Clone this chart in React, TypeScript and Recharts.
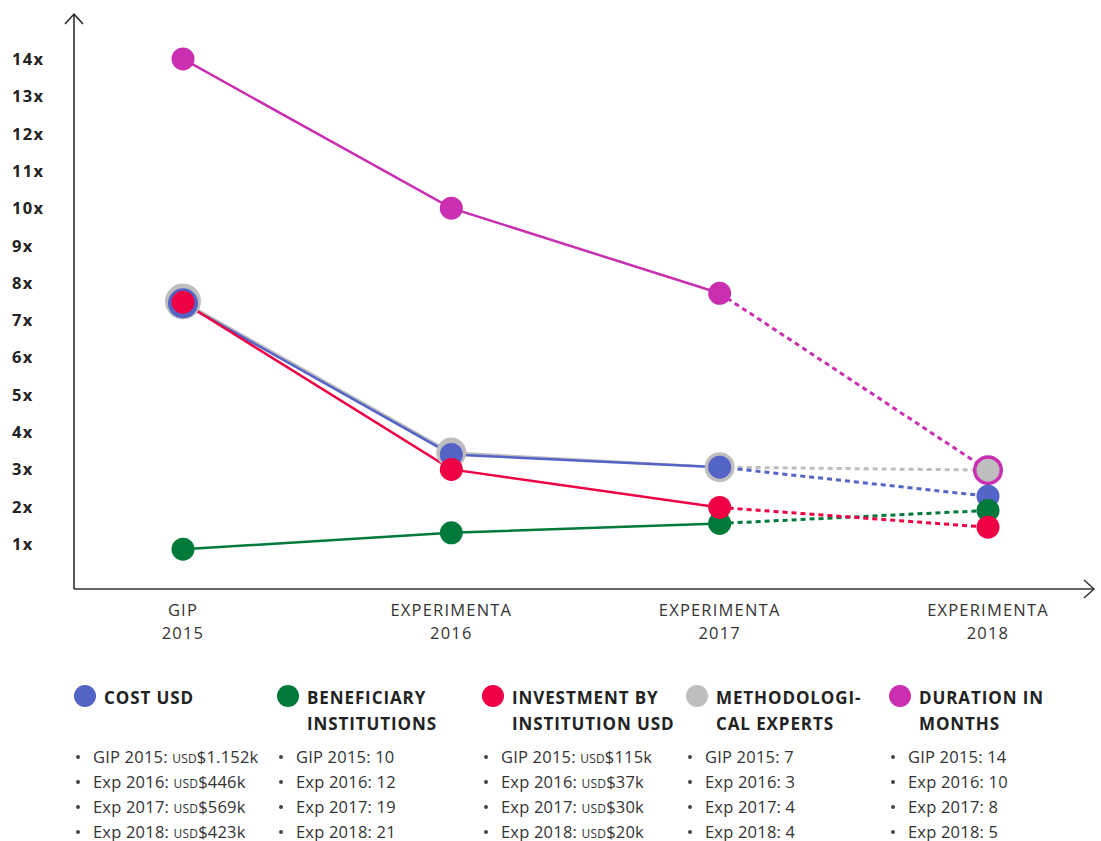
import { LineChart, Line, XAxis, YAxis } from "recharts";

// editions on the x axis
const CAT_TOP = ["GIP", "EXPERIMENTA", "EXPERIMENTA", "EXPERIMENTA"];
const CAT_YEAR = ["2015", "2016", "2017", "2018"];
const Y_TICKS = [1, 2, 3, 4, 5, 6, 7, 8, 9, 10, 11, 12, 13, 14];

// relative values ("x"); 2018 is drawn dashed
const COST = [7.45, 3.4, 3.06, 2.28];
const BENEFICIARY = [0.86, 1.3, 1.55, 1.9];
const INVESTMENT = [7.48, 3.0, 1.98, 1.45];
const METHODOLOGICAL = [7.5, 3.45, 3.06, 2.98];
const DURATION = [14, 10, 7.72, 2.98];
const LAST_SOLID = 2;

// legend texts
const COST_ITEMS = ["GIP 2015: USD$1.152k", "Exp 2016: USD$446k", "Exp 2017: USD$569k", "Exp 2018: USD$423k"];
const BENEFICIARY_ITEMS = ["GIP 2015: 10", "Exp 2016: 12", "Exp 2017: 19", "Exp 2018: 21"];
const INVESTMENT_ITEMS = ["GIP 2015: USD$115k", "Exp 2016: USD$37k", "Exp 2017: USD$30k", "Exp 2018: USD$20k"];
const METHODOLOGICAL_ITEMS = ["GIP 2015: 7", "Exp 2016: 3", "Exp 2017: 4", "Exp 2018: 4"];
const DURATION_ITEMS = ["GIP 2015: 14", "Exp 2016: 10", "Exp 2017: 8", "Exp 2018: 5"];

const BLUE = "#5363c6";
const GREEN = "#007a3b";
const RED = "#ef0044";
const GRAY = "#bebebf";
const MAGENTA = "#c92fb0";

const FONT = "'Open Sans', Lato, sans-serif";

const data = CAT_YEAR.map((year, i) => {
  const row: Record<string, number | string | null> = { name: year };
  const add = (key: string, vals: number[]) => {
    row[key + "Solid"] = i <= LAST_SOLID ? vals[i] : null;
    row[key + "Dash"] = i >= LAST_SOLID ? vals[i] : null;
  };
  add("cost", COST);
  add("beneficiary", BENEFICIARY);
  add("investment", INVESTMENT);
  add("methodological", METHODOLOGICAL);
  add("duration", DURATION);
  return row;
});

const legend = [
  { color: BLUE, title: ["COST USD"], items: COST_ITEMS },
  { color: GREEN, title: ["BENEFICIARY", "INSTITUTIONS"], items: BENEFICIARY_ITEMS },
  { color: RED, title: ["INVESTMENT BY", "INSTITUTION USD"], items: INVESTMENT_ITEMS },
  { color: GRAY, title: ["METHODOLOGI-", "CAL EXPERTS"], items: METHODOLOGICAL_ITEMS },
  { color: MAGENTA, title: ["DURATION IN", "MONTHS"], items: DURATION_ITEMS },
];
const LEGEND_LEFT = [74, 277, 482, 686, 889];

const R = 11.5;

// gray sits under the others as a ring, magenta rings the gray one in 2018
function dotRadius(key: string, i: number): number {
  if (key === "methodological") return i === 0 ? 18 : i < 3 ? 15 : R;
  if (key === "cost") return i === 0 ? 15 : R;
  if (key === "duration") return i === 3 ? 15 : R;
  return R;
}

function makeDot(key: string, color: string, dashed: boolean) {
  return (props: any) => {
    const { cx, cy, index, value } = props;
    const k = `${key}-${dashed ? "d" : "s"}-${index}`;
    const show = dashed ? index > LAST_SOLID : index <= LAST_SOLID;
    if (cx == null || cy == null || value == null || !show) return <g key={k} />;
    return <circle key={k} cx={cx} cy={cy} r={dotRadius(key, index)} fill={color} />;
  };
}

function YTick(props: any) {
  const { y, payload } = props;
  return (
    <text x={12} y={y} dy={6} textAnchor="start" fontSize={16.5} fontWeight={700}
      fill="#222" letterSpacing={1.3} fontFamily={FONT}>
      {payload.value}x
    </text>
  );
}

function XTick(props: any) {
  const { x, y, index } = props;
  return (
    <text x={x} textAnchor="middle" fontSize={16.5} fill="#333" letterSpacing={1.2} fontFamily={FONT}>
      <tspan x={x} y={y + 19}>{CAT_TOP[index]}</tspan>
      <tspan x={x} y={y + 42}>{CAT_YEAR[index]}</tspan>
    </text>
  );
}

function ItemText({ text }: { text: string }) {
  const parts = text.split("USD");
  if (parts.length === 1) return <>{text}</>;
  return (
    <>
      {parts[0]}
      <span style={{ fontSize: 12 }}>USD</span>
      {parts[1]}
    </>
  );
}

const SERIES = [
  { key: "duration", color: MAGENTA },
  { key: "methodological", color: GRAY },
  { key: "cost", color: BLUE },
  { key: "beneficiary", color: GREEN },
  { key: "investment", color: RED },
];

export default function App() {
  return (
    <div style={{ position: "absolute", left: 0, top: 0, width: 1101, height: 841, background: "#fff", fontFamily: FONT }}>
      <svg width={0} height={0} style={{ position: "absolute" }}>
        <defs>
          <marker id="arrowY" markerUnits="userSpaceOnUse" markerWidth={24} markerHeight={24}
            refX={12} refY={12} orient="auto-start-reverse" overflow="visible">
            <path d="M2,3 L12,12 L2,21" fill="none" stroke="#222" strokeWidth={1.5} />
          </marker>
          <marker id="arrowX" markerUnits="userSpaceOnUse" markerWidth={24} markerHeight={24}
            refX={12} refY={12} orient="auto" overflow="visible">
            <path d="M2,3 L12,12 L2,21" fill="none" stroke="#333" strokeWidth={1.5} />
          </marker>
        </defs>
      </svg>
      <LineChart width={1101} height={660} data={data} margin={{ top: 14, right: 7, bottom: 11, left: 0 }}>
        <XAxis
          dataKey="name"
          type="category"
          padding={{ left: 109, right: 106 }}
          axisLine={{ stroke: "#666", strokeWidth: 2, markerEnd: "url(#arrowX)" }}
          tickLine={false}
          interval={0}
          height={60}
          tick={(p: any) => <XTick {...p} />}
        />
        <YAxis
          type="number"
          domain={[-0.206, 15.205]}
          ticks={Y_TICKS}
          interval={0}
          width={74}
          axisLine={{ stroke: "#222", strokeWidth: 1.5, markerStart: "url(#arrowY)" }}
          tickLine={false}
          tick={(p: any) => <YTick {...p} />}
        />
        {SERIES.map((s) => (
          <Line
            key={s.key + "Dash"}
            dataKey={s.key + "Dash"}
            stroke={s.color}
            strokeWidth={3}
            strokeDasharray="5 4"
            dot={makeDot(s.key, s.color, true)}
            activeDot={false}
            isAnimationActive={false}
            type="linear"
          />
        ))}
        {SERIES.map((s) => (
          <Line
            key={s.key + "Solid"}
            dataKey={s.key + "Solid"}
            stroke={s.color}
            strokeWidth={2.5}
            dot={makeDot(s.key, s.color, false)}
            activeDot={false}
            isAnimationActive={false}
            type="linear"
          />
        ))}
      </LineChart>

      {legend.map((col, ci) => (
        <div key={ci} style={{ position: "absolute", left: LEGEND_LEFT[ci], top: 685, width: 210 }}>
          <div style={{ position: "absolute", left: 0, top: 0, width: 22, height: 22, borderRadius: 11, background: col.color }} />
          <div style={{ position: "absolute", left: 30, top: 0, fontSize: 17, fontWeight: 700, lineHeight: "25.5px", color: "#222", letterSpacing: 0.9, whiteSpace: "nowrap" }}>
            {col.title.map((t, i) => (
              <div key={i}>{t}</div>
            ))}
          </div>
          <div style={{ position: "absolute", left: 0, top: 58.5 }}>
            {col.items.map((it, i) => (
              <div key={i} style={{ position: "relative", height: 25.2, lineHeight: "25.2px", fontSize: 16.5, color: "#333", whiteSpace: "nowrap", letterSpacing: 0.2 }}>
                <span style={{ position: "absolute", left: 2, top: 11, width: 4, height: 4, borderRadius: 2, background: "#444" }} />
                <span style={{ position: "absolute", left: 19, top: 0 }}>
                  <ItemText text={it} />
                </span>
              </div>
            ))}
          </div>
        </div>
      ))}
    </div>
  );
}
